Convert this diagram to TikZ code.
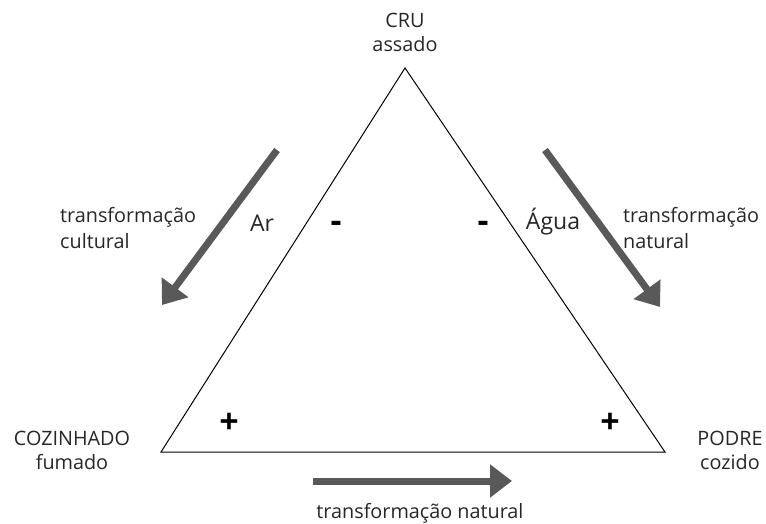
\documentclass[tikz,border=0pt]{standalone}
\usepackage{fontspec}
\setmainfont{Open Sans}
\usetikzlibrary{arrows.meta}
\definecolor{arrowgray}{HTML}{595959}
\begin{document}
\begin{tikzpicture}[x=1pt,y=-1pt,
  lbl/.style={font=\fontsize{19.8}{24}\selectfont, inner sep=0pt, text=black!85},
  lblL/.style={lbl, align=left, anchor=west},
  lblC/.style={lbl, align=center},
  big/.style={lbl, font=\fontsize{23}{26}\selectfont},
  sign/.style={font=\fontsize{34}{34}\selectfont\bfseries, inner sep=0pt, anchor=base},
  bigarrow/.style={draw=arrowgray, line width=7pt, -{Triangle[width=32pt,length=22pt]}, fill=arrowgray}]
\useasboundingbox (0,0) rectangle (766,524);
% triangle
\coordinate (top) at (405,68);
\coordinate (bl) at (161,452);
\coordinate (br) at (665,452);
\draw[line width=1pt] (top) -- (bl) -- (br) -- cycle;
% vertex labels
\node[lblC] (cru) at (405,20) {CRU};
\node[lblC] (assado) at (405,44) {assado};
\node[lblC] (coz) at (72,438) {COZINHADO};
\node[lblC] (fum) at (72,462) {fumado};
\node[lblC] (podre) at (730,438) {PODRE};
\node[lblC] (cozido) at (730,462) {cozido};
% side labels
\node[lblL] (tcL) at (60,217) {transformação};
\node[lblL] (cult) at (60,241) {cultural};
\node[lblL] (tnR) at (623,217) {transformação};
\node[lblL] (natR) at (623,241) {natural};
\node[lblC] (tnB) at (420,513) {transformação natural};
\node[big] (ar) at (262,223) {Ar};
\node[big] (agua) at (553,222) {Água};
% signs
\node[sign] (m1) at (336,232.5) {-};
\node[sign] (m2) at (483,232.5) {-};
\node[sign] (p1) at (229,433) {+};
\node[sign] (p2) at (610,433) {+};
% arrows
\coordinate (a1s) at (277,150);
\coordinate (a1e) at (162,305);
\coordinate (a2s) at (545,150);
\coordinate (a2e) at (660,307);
\coordinate (a3s) at (313,481);
\coordinate (a3e) at (512,481);
\draw[bigarrow] (a1s) -- (a1e);
\draw[bigarrow] (a2s) -- (a2e);
\draw[bigarrow] (a3s) -- (a3e);
\end{tikzpicture}
\end{document}
